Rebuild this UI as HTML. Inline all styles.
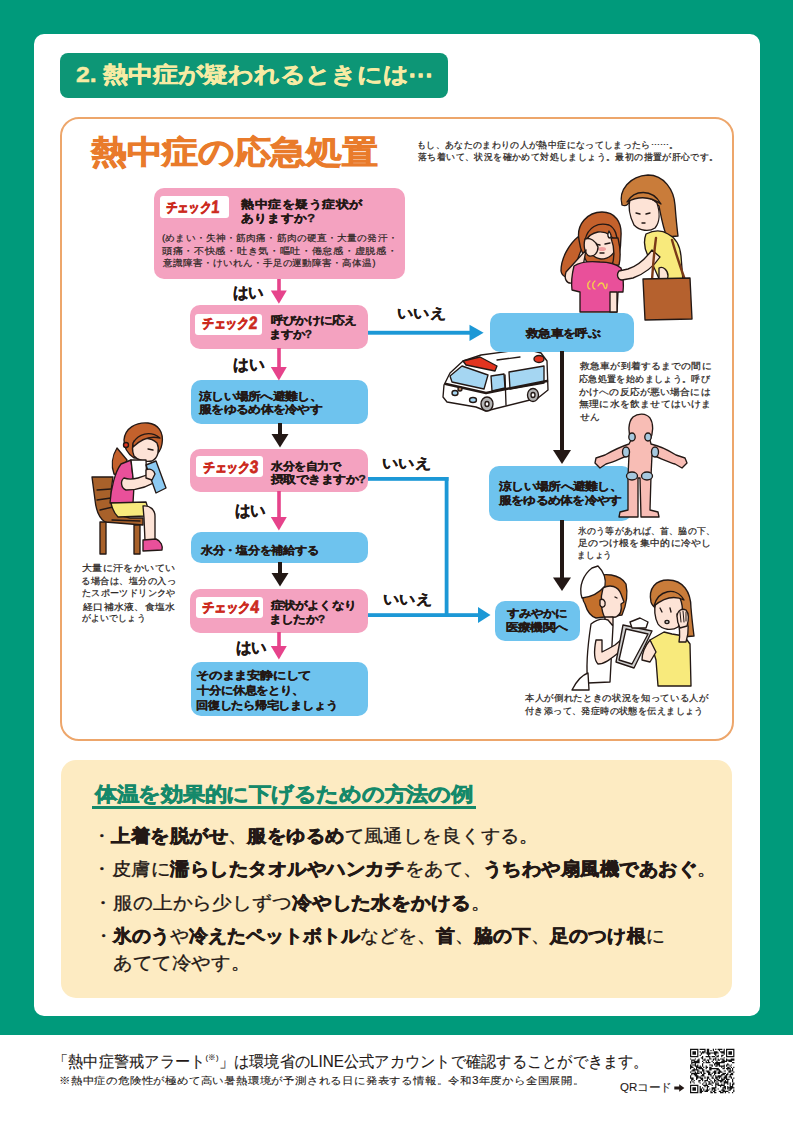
<!DOCTYPE html><html lang="ja"><head><meta charset="utf-8"><style>
*{margin:0;padding:0;box-sizing:border-box}
html,body{width:793px;height:1122px;overflow:hidden;background:#fff}
body{position:relative;font-family:"Liberation Sans",sans-serif;color:#231815}
.a{position:absolute}
.L{position:absolute;white-space:nowrap;line-height:1;transform-origin:0 0}
.ttl{color:#f7eba4;font-weight:bold;-webkit-text-stroke:0.5px #f7eba4}
.h1{color:#e97b2b;font-weight:bold;-webkit-text-stroke:1.0px #e97b2b}
.n{color:#2a2522;-webkit-text-stroke:0.25px #2a2522}
.f{color:#231815;-webkit-text-stroke:0.1px #231815}
.m{color:#2a2522;-webkit-text-stroke:0.2px #2a2522}
.b{color:#231815;font-weight:bold;-webkit-text-stroke:0.3px #231815}
.lb{color:#cc2a1e;font-weight:bold;-webkit-text-stroke:0.65px #cc2a1e}
.lb .d{font-size:1.3em;vertical-align:-0.04em}
.yh{color:#15896a;font-weight:bold;-webkit-text-stroke:0.75px #15896a}
.yl{color:#231815;-webkit-text-stroke:0.35px #231815}
.yl b{font-weight:bold;-webkit-text-stroke:0.7px #231815}
.L sup{font-size:0.5em;vertical-align:0.9em}
.pk{background:#f4a2c0}
.bl{background:#6ec3ee}
.wh{background:#fff}
body.solo *{visibility:hidden!important}
body.solo .show, body.solo .show *{visibility:visible!important}
</style></head><body>
<div class="a" style="left:0;top:0;width:793px;height:1035px;background:#009a7b"></div>
<div class="a" style="left:34px;top:34px;width:726px;height:982px;background:#fff;border-radius:10px"></div>
<div class="a" style="left:60px;top:53px;width:388px;height:45px;background:#0d9676;border-radius:8px"></div>
<div class="a" style="left:60px;top:117px;width:673.5px;height:624px;border:2px solid #eda66b;border-radius:19px"></div>
<!-- illustrations behind boxes -->
<svg class="a" style="left:0;top:0" width="793" height="1122" viewBox="0 0 793 1122">
<g stroke="#231815" stroke-width="1.35" stroke-linejoin="round" stroke-linecap="round">
<!-- top-right girl -->
<path d="M579 236 C569 244 561 258 561 271 C562 277 568 279 572 276 C576 266 578 256 583 246 Z" fill="#c4612c"/>
<path d="M579 240 C576 224 588 212 602 212 C615 212 622 222 621 236 C621 248 619 258 616 267 L590 267 C584 258 580 250 579 240 Z" fill="#c4612c"/>
<path d="M588 238 C590 229 598 225 606 226 C613 228 616 236 616 246 C615 254 609 259 601 259 C593 258 588 251 588 244 Z" fill="#fde3d6"/>
<path d="M585 240 C588 227 598 222 609 225 C615 228 618 236 617 244 C613 236 607 231 598 232 C592 233 588 236 585 242 Z" fill="#c4612c"/>
<path d="M611 238 C614 246 615 256 612 266 L619 265 C621 256 620 246 618 238 Z" fill="#c4612c"/>
<ellipse cx="602" cy="249" rx="4" ry="2" fill="#f2a0a0" stroke="none"/>
<path d="M595 244 L600 245 M605 244 L610 243 M600 253 L604 253" fill="none"/>
<path d="M609 231 C611 234 612 237 610 238 C608 238 607 235 609 231 Z" fill="#fff"/>
<path d="M585 239 C590 237 596 241 598 247 C598 253 594 257 589 256 C585 254 583 246 585 239 Z" fill="#fde3d6"/>
<path d="M586 250 L566 272 C564 278 566 284 572 283 L582 272 Z" fill="#fde3d6"/>
<path d="M574 266 C580 262 590 261 600 262 C610 262 616 264 621 268 C623 276 624 284 623 292 L618 292 L617 312 L580 312 L580 292 L572 290 C571 282 572 274 574 266 Z" fill="#e9509a"/>
<path d="M610 292 L617 292 L617 312 L610 312 Z" fill="#fde3d6"/>
<path d="M590 281 C587 283 587 288 590 289 M595 281 C592 283 592 288 595 289 M598 286 C600 282 603 282 604 286 C605 290 607 289 607 284" fill="none" stroke="#f6d04a" stroke-width="1.3"/>
<!-- woman -->
<path d="M622 205 C618 190 630 176 648 175 C664 175 674 190 675 205 C676 218 677 228 678 236 L667 237 C663 228 661 216 659 206 C651 200 640 197 630 201 C628 205 626 207 622 205 Z" fill="#c97c3a"/>
<path d="M630 199 C638 194 650 196 657 203 C660 212 660 222 655 228 C649 232 640 231 634 225 C630 217 628 207 630 199 Z" fill="#fde3d6"/>
<path d="M627 202 C634 190 652 188 661 204 C651 197 640 195 627 202 Z" fill="#c97c3a"/>
<path d="M636 213 L640 214 M646 214 L650 213 M642 223 L645 223" fill="none"/>
<path d="M646 234 C654 230 662 230 668 234 C676 238 680 246 681 256 L683 281 L660 281 C656 272 652 262 648 256 C645 250 643 242 646 234 Z" fill="#f8ea7c"/>
<path d="M652 250 C646 258 638 266 628 269 L619 271 C616 275 618 280 622 280 L633 278 C644 274 654 266 660 257 Z" fill="#fde3d6"/>
<path d="M659 268 C663 266 668 270 668 276 L667 282 L659 282 Z" fill="#fde3d6"/>
<path d="M656 238 C654 252 653 266 652 280 M672 240 C676 254 680 266 685 280" fill="none" stroke="#7a3a18" stroke-width="2.4"/>
<path d="M643 279 L690 278 L692 319 L645 320 Z" fill="#b5612e"/>
<!-- ambulance -->
<path d="M443 397 L444 385 L450 373 L463 361 L481 355 L526 349 L541 353 L547 361 L548 390 L538 398 L486 411 L476 407 L447 402 Z" fill="#fff"/>
<path d="M450 376 L462 366 L488 375 L484 389 L452 382 Z" fill="#a5d6f2"/>
<path d="M491 376 L504 374 L505 388 L492 391 Z" fill="#a5d6f2"/>
<path d="M509 372 L544 366 L544 383 L510 389 Z" fill="#a5d6f2"/>
<path d="M463 361 L480 357 L497 366 L495 371 L466 365 Z" fill="#e2341f"/>
<ellipse cx="539" cy="359" rx="5" ry="3.5" fill="#e2341f"/>
<path d="M446 384 L486 393 L547 381" fill="none" stroke-width="2.4"/>
<path d="M505 375 L506 405 M497 360 L520 357" fill="none"/>
<ellipse cx="487" cy="404" rx="6" ry="7" fill="#b4b4b4"/>
<ellipse cx="487" cy="404" rx="2" ry="2.5" fill="#fff"/>
<ellipse cx="533" cy="395" rx="5.5" ry="6.5" fill="#b4b4b4"/>
<ellipse cx="533" cy="395" rx="2" ry="2.5" fill="#fff"/>
<ellipse cx="455" cy="393" rx="3" ry="2.5" fill="#a5d6f2"/>
<ellipse cx="473" cy="400" rx="3.5" ry="2.5" fill="#a5d6f2"/>
<circle cx="460" cy="389" r="2" fill="#b08060"/>
<!-- sitting girl -->
<path d="M92 477 L113 477 C111 488 110 500 113 508 C116 514 122 517 130 518 L143 518 L143 525 L105 522 C99 518 96 510 95 500 Z" fill="#a8612a"/>
<path d="M100 522 L106 522 L106 554 L100 554Z M134 525 L140 525 L140 554 L134 554Z" fill="#a8612a"/>
<path d="M97 490 L111 489 M97 500 L111 498 M100 510 L113 507 M112 520 L140 521" fill="none"/>
<path d="M117 448 C112 456 111 466 114 474 C119 476 125 468 127 460 Z" fill="#c4612c"/>
<path d="M124 440 C125 428 136 422 148 423 C158 424 164 432 162 444 C161 450 158 454 154 456 L134 458 C128 454 124 448 124 440Z" fill="#c4612c"/>
<path d="M134 441 C140 437 151 437 157 443 C160 450 158 458 152 461 C146 462 138 461 134 456 C132 451 132 446 134 441Z" fill="#fde3d6"/>
<path d="M133 443 C138 434 150 430 160 438 C152 436 142 438 133 447 Z" fill="#c4612c"/>
<path d="M148 449 L153 450" fill="none"/>
<circle cx="126" cy="445" r="2.5" fill="#e2341f"/>
<path d="M110 503 C111 488 115 472 121 464 L131 460 L134 486 L133 503 Z" fill="#e9509a"/>
<path d="M131 460 L146 460 L147 485 L134 486 Z" fill="#fff"/>
<path d="M111 503 L146 502 C148 507 148 512 146 516 L118 517 C114 513 112 508 111 503 Z" fill="#f8ea7c"/>
<path d="M143 506 C150 505 155 510 155 516 L155 541 L145 541 L144 518 Z" fill="#fde3d6"/>
<path d="M143 540 L156 539 C161 541 163 546 162 550 L143 551 Z" fill="#e9509a"/>
<path d="M124 478 C132 481 144 477 152 472 L160 478 C152 485 140 490 126 490 C121 488 120 481 124 478 Z" fill="#fde3d6"/>
<path d="M146 465 L156 461 L166 488 L156 493 Z" fill="#8ccaf2"/>
<path d="M146 470 C150 468 154 470 155 474 L152 480 L146 478 Z" fill="#fde3d6"/>
<!-- nurse -->
<path d="M585 604 C580 596 582 584 592 578 C604 572 620 574 626 584 C628 594 626 606 622 615 L596 618 C590 616 587 611 585 604Z" fill="#c4702c"/>
<path d="M603 588 C610 584 618 586 621 594 L624 602 L621 604 C622 610 620 615 616 617 L605 618 C601 611 600 598 603 588Z" fill="#fde3d6"/>
<path d="M600 600 C603 598 606 601 605 605 C604 608 601 608 600 605 Z" fill="#fde3d6"/>
<path d="M615 597 L617 598" fill="none"/>
<path d="M582 598 C578 586 584 574 592 568 L598 566 C604 572 606 580 605 586 C600 592 592 597 582 598Z" fill="#fff"/>
<path d="M605 617 L613 617 L613 625 L605 625 Z" fill="#fde3d6"/>
<path d="M591 624 C596 620 602 618 608 620 L613 626 L610 682 L588 683 C586 670 587 650 591 624Z" fill="#fff"/>
<path d="M572 690 C576 682 582 675 588 673 L589 690 Z" fill="#fff"/>
<path d="M596 640 C594 650 594 660 598 664 C606 664 614 656 622 650 L627 645 L622 639 L615 645 C610 648 606 650 602 652 L602 640 Z" fill="#fde3d6"/>
<path d="M623 625 L652 631 L634 668 L616 662 Z" fill="#cfcfcf"/>
<path d="M626 629 L648 634 L632 664 L619 660 Z" fill="#fff"/>
<path d="M630 622 L640 618 L648 622 L646 628 L632 628 Z" fill="#fff"/>
<!-- woman patient -->
<path d="M651 602 C648 588 656 580 668 580 C683 580 691 592 691 608 C692 620 693 628 694 636 L682 637 L678 618 L658 610 C655 608 652 606 651 602Z" fill="#c97c3a"/>
<path d="M656 602 C660 593 672 591 680 598 C684 608 683 620 678 627 C672 631 662 630 658 624 C654 616 654 609 656 602 Z" fill="#fde3d6"/>
<path d="M654 606 C658 590 676 586 684 600 C676 596 666 596 654 606 Z" fill="#c97c3a"/>
<path d="M660 608 L662 612 M670 608 L671 612" fill="none"/>
<ellipse cx="667" cy="622" rx="2" ry="1.5" fill="#fff"/>
<path d="M650 640 L664 632 L672 634 L684 636 L690 644 L691 686 L658 686 L656 660 Z" fill="#f8ea7c"/>
<path d="M650 640 C645 646 642 652 642 660 L650 662 L656 652 Z" fill="#fde3d6"/>
<path d="M686 642 C690 630 688 620 684 612 L677 614 C679 624 681 632 679 642 Z" fill="#fde3d6"/>
<path d="M677 616 C678 610 682 608 686 610 C689 613 689 620 687 626 L680 628 C678 624 677 620 677 616 Z" fill="#fde3d6"/>
<path d="M680 612 L681 622 M683 611 L684 622 M686 612 L686 621" fill="none" stroke-width="1"/>
</g>
</svg>

<div class="a pk" style="left:154.0px;top:188.0px;width:250.8px;height:90.5px;border-radius:10px"></div>
<div class="a pk" style="left:190.3px;top:305.1px;width:178.2px;height:43.6px;border-radius:10px"></div>
<div class="a bl" style="left:190.8px;top:380.3px;width:177.7px;height:44.1px;border-radius:10px"></div>
<div class="a pk" style="left:190.3px;top:448.8px;width:178.2px;height:43.4px;border-radius:10px"></div>
<div class="a bl" style="left:190.8px;top:532.1px;width:177.7px;height:31.3px;border-radius:10px"></div>
<div class="a pk" style="left:190.3px;top:589.3px;width:178.2px;height:43.6px;border-radius:10px"></div>
<div class="a bl" style="left:190.8px;top:661.8px;width:177.7px;height:54.6px;border-radius:10px"></div>
<div class="a bl" style="left:489.9px;top:312.9px;width:143.7px;height:39.1px;border-radius:10px"></div>
<div class="a bl" style="left:489.3px;top:466.3px;width:142.7px;height:54.3px;border-radius:10px"></div>
<div class="a bl" style="left:495.0px;top:601.0px;width:84.9px;height:39.5px;border-radius:10px"></div>
<div class="a wh" style="left:160.0px;top:195.7px;width:69.2px;height:22.1px;border-radius:3px"></div>
<div class="a wh" style="left:195.4px;top:313.5px;width:66.4px;height:21.3px;border-radius:3px"></div>
<div class="a wh" style="left:196.1px;top:456.2px;width:66.6px;height:20.9px;border-radius:3px"></div>
<div class="a wh" style="left:196.1px;top:596.7px;width:67.3px;height:21.6px;border-radius:3px"></div>
<svg class="a" style="left:0;top:0" width="793" height="1122" viewBox="0 0 793 1122"><g stroke="#231815" stroke-width="1.35" stroke-linejoin="round" stroke-linecap="round">
<!-- body figure -->
<path d="M631 440 C628 432 628 422 633 417 C638 413 646 413 650 418 C654 424 653 434 650 440 L651 444 C660 446 668 450 676 455 L685 458 L687 463 L682 468 L675 464 C668 462 660 458 652 455 L651 476 L650 510 L658 512 L659 517 L641 517 L640 478 L638 478 L638 517 L619 517 L620 512 L628 510 L628 476 L629 455 C621 458 614 462 606 464 L600 468 L595 463 L596 458 L605 455 C612 451 620 447 629 444 Z" fill="#f8bdb5"/>
<g fill="#a6c8de">
<ellipse cx="632" cy="437" rx="3.2" ry="4"/><ellipse cx="648" cy="437" rx="3.2" ry="4"/>
<ellipse cx="626" cy="452" rx="3.5" ry="5"/><ellipse cx="655" cy="452" rx="3.5" ry="5"/>
<ellipse cx="632" cy="476" rx="5.5" ry="4"/><ellipse cx="647" cy="476" rx="5.5" ry="4"/>
</g>
</g></svg>
<!-- arrows -->
<svg class="a" style="left:0;top:0" width="793" height="1122" viewBox="0 0 793 1122">
<g fill="#e6438b">
<rect x="277.2" y="279" width="3.6" height="12"/><path d="M270.8 290.5H286.8L278.9 303.8Z"/>
<rect x="277.2" y="348" width="3.6" height="20"/><path d="M270.8 367H286.8L278.9 380.5Z"/>
<rect x="277.2" y="491" width="3.6" height="27"/><path d="M270.8 517H286.8L278.9 530.5Z"/>
<rect x="277.2" y="632" width="3.6" height="15"/><path d="M270.8 646H286.8L278.9 659.5Z"/>
</g>
<g fill="#231815">
<rect x="278" y="423" width="4" height="12"/><path d="M271.5 434H288.5L280 447.5Z"/>
<rect x="278" y="562" width="4" height="12"/><path d="M271.5 573H288.5L280 586.5Z"/>
<rect x="560" y="351" width="4" height="100"/><path d="M553 450H571L562 464Z"/>
<rect x="560" y="520" width="4" height="58"/><path d="M553 577.5H571L562 591Z"/>
</g>
<g fill="#1c98d6">
<rect x="368" y="330.8" width="102" height="3.9"/><path d="M469.5 324.7V341L483.6 332.8Z"/>
<rect x="368" y="477" width="80.5" height="3.8"/>
<rect x="444.7" y="477" width="3.8" height="140"/>
<rect x="368" y="613.2" width="111" height="3.8"/><path d="M478 607V623L490.5 615.1Z"/>
</g>
</svg>


<div class="a" style="left:61px;top:760px;width:671px;height:237.5px;background:#fdebc2;border-radius:15px"></div>
<div class="a" style="left:92px;top:806.3px;width:384px;height:2.6px;background:#15896a"></div>
<svg class="a" style="left:0;top:0" width="793" height="1122"><path fill="#111" d="M690.00 1048.80h1.20v1.20h-1.20zM691.20 1048.80h1.20v1.20h-1.20zM692.40 1048.80h1.20v1.20h-1.20zM693.60 1048.80h1.20v1.20h-1.20zM694.80 1048.80h1.20v1.20h-1.20zM696.00 1048.80h1.20v1.20h-1.20zM697.20 1048.80h1.20v1.20h-1.20zM699.60 1048.80h1.20v1.20h-1.20zM700.80 1048.80h1.20v1.20h-1.20zM702.00 1048.80h1.20v1.20h-1.20zM703.20 1048.80h1.20v1.20h-1.20zM704.40 1048.80h1.20v1.20h-1.20zM706.80 1048.80h1.20v1.20h-1.20zM708.00 1048.80h1.20v1.20h-1.20zM712.80 1048.80h1.20v1.20h-1.20zM715.20 1048.80h1.20v1.20h-1.20zM717.60 1048.80h1.20v1.20h-1.20zM718.80 1048.80h1.20v1.20h-1.20zM720.00 1048.80h1.20v1.20h-1.20zM721.20 1048.80h1.20v1.20h-1.20zM723.60 1048.80h1.20v1.20h-1.20zM726.00 1048.80h1.20v1.20h-1.20zM727.20 1048.80h1.20v1.20h-1.20zM728.40 1048.80h1.20v1.20h-1.20zM729.60 1048.80h1.20v1.20h-1.20zM730.80 1048.80h1.20v1.20h-1.20zM732.00 1048.80h1.20v1.20h-1.20zM733.20 1048.80h1.20v1.20h-1.20zM690.00 1050.00h1.20v1.20h-1.20zM697.20 1050.00h1.20v1.20h-1.20zM704.40 1050.00h1.20v1.20h-1.20zM706.80 1050.00h1.20v1.20h-1.20zM708.00 1050.00h1.20v1.20h-1.20zM710.40 1050.00h1.20v1.20h-1.20zM712.80 1050.00h1.20v1.20h-1.20zM718.80 1050.00h1.20v1.20h-1.20zM723.60 1050.00h1.20v1.20h-1.20zM726.00 1050.00h1.20v1.20h-1.20zM733.20 1050.00h1.20v1.20h-1.20zM690.00 1051.20h1.20v1.20h-1.20zM692.40 1051.20h1.20v1.20h-1.20zM693.60 1051.20h1.20v1.20h-1.20zM694.80 1051.20h1.20v1.20h-1.20zM697.20 1051.20h1.20v1.20h-1.20zM699.60 1051.20h1.20v1.20h-1.20zM702.00 1051.20h1.20v1.20h-1.20zM703.20 1051.20h1.20v1.20h-1.20zM704.40 1051.20h1.20v1.20h-1.20zM706.80 1051.20h1.20v1.20h-1.20zM708.00 1051.20h1.20v1.20h-1.20zM714.00 1051.20h1.20v1.20h-1.20zM715.20 1051.20h1.20v1.20h-1.20zM716.40 1051.20h1.20v1.20h-1.20zM720.00 1051.20h1.20v1.20h-1.20zM721.20 1051.20h1.20v1.20h-1.20zM722.40 1051.20h1.20v1.20h-1.20zM723.60 1051.20h1.20v1.20h-1.20zM726.00 1051.20h1.20v1.20h-1.20zM728.40 1051.20h1.20v1.20h-1.20zM729.60 1051.20h1.20v1.20h-1.20zM730.80 1051.20h1.20v1.20h-1.20zM733.20 1051.20h1.20v1.20h-1.20zM690.00 1052.40h1.20v1.20h-1.20zM692.40 1052.40h1.20v1.20h-1.20zM693.60 1052.40h1.20v1.20h-1.20zM694.80 1052.40h1.20v1.20h-1.20zM697.20 1052.40h1.20v1.20h-1.20zM700.80 1052.40h1.20v1.20h-1.20zM702.00 1052.40h1.20v1.20h-1.20zM703.20 1052.40h1.20v1.20h-1.20zM705.60 1052.40h1.20v1.20h-1.20zM706.80 1052.40h1.20v1.20h-1.20zM708.00 1052.40h1.20v1.20h-1.20zM709.20 1052.40h1.20v1.20h-1.20zM710.40 1052.40h1.20v1.20h-1.20zM711.60 1052.40h1.20v1.20h-1.20zM712.80 1052.40h1.20v1.20h-1.20zM714.00 1052.40h1.20v1.20h-1.20zM715.20 1052.40h1.20v1.20h-1.20zM716.40 1052.40h1.20v1.20h-1.20zM717.60 1052.40h1.20v1.20h-1.20zM721.20 1052.40h1.20v1.20h-1.20zM722.40 1052.40h1.20v1.20h-1.20zM723.60 1052.40h1.20v1.20h-1.20zM726.00 1052.40h1.20v1.20h-1.20zM728.40 1052.40h1.20v1.20h-1.20zM729.60 1052.40h1.20v1.20h-1.20zM730.80 1052.40h1.20v1.20h-1.20zM733.20 1052.40h1.20v1.20h-1.20zM690.00 1053.60h1.20v1.20h-1.20zM692.40 1053.60h1.20v1.20h-1.20zM693.60 1053.60h1.20v1.20h-1.20zM694.80 1053.60h1.20v1.20h-1.20zM697.20 1053.60h1.20v1.20h-1.20zM700.80 1053.60h1.20v1.20h-1.20zM706.80 1053.60h1.20v1.20h-1.20zM708.00 1053.60h1.20v1.20h-1.20zM709.20 1053.60h1.20v1.20h-1.20zM714.00 1053.60h1.20v1.20h-1.20zM715.20 1053.60h1.20v1.20h-1.20zM723.60 1053.60h1.20v1.20h-1.20zM726.00 1053.60h1.20v1.20h-1.20zM728.40 1053.60h1.20v1.20h-1.20zM729.60 1053.60h1.20v1.20h-1.20zM730.80 1053.60h1.20v1.20h-1.20zM733.20 1053.60h1.20v1.20h-1.20zM690.00 1054.80h1.20v1.20h-1.20zM697.20 1054.80h1.20v1.20h-1.20zM699.60 1054.80h1.20v1.20h-1.20zM708.00 1054.80h1.20v1.20h-1.20zM715.20 1054.80h1.20v1.20h-1.20zM717.60 1054.80h1.20v1.20h-1.20zM721.20 1054.80h1.20v1.20h-1.20zM722.40 1054.80h1.20v1.20h-1.20zM726.00 1054.80h1.20v1.20h-1.20zM733.20 1054.80h1.20v1.20h-1.20zM690.00 1056.00h1.20v1.20h-1.20zM691.20 1056.00h1.20v1.20h-1.20zM692.40 1056.00h1.20v1.20h-1.20zM693.60 1056.00h1.20v1.20h-1.20zM694.80 1056.00h1.20v1.20h-1.20zM696.00 1056.00h1.20v1.20h-1.20zM697.20 1056.00h1.20v1.20h-1.20zM702.00 1056.00h1.20v1.20h-1.20zM705.60 1056.00h1.20v1.20h-1.20zM706.80 1056.00h1.20v1.20h-1.20zM708.00 1056.00h1.20v1.20h-1.20zM709.20 1056.00h1.20v1.20h-1.20zM711.60 1056.00h1.20v1.20h-1.20zM712.80 1056.00h1.20v1.20h-1.20zM714.00 1056.00h1.20v1.20h-1.20zM716.40 1056.00h1.20v1.20h-1.20zM717.60 1056.00h1.20v1.20h-1.20zM721.20 1056.00h1.20v1.20h-1.20zM726.00 1056.00h1.20v1.20h-1.20zM727.20 1056.00h1.20v1.20h-1.20zM728.40 1056.00h1.20v1.20h-1.20zM729.60 1056.00h1.20v1.20h-1.20zM730.80 1056.00h1.20v1.20h-1.20zM732.00 1056.00h1.20v1.20h-1.20zM733.20 1056.00h1.20v1.20h-1.20zM700.80 1057.20h1.20v1.20h-1.20zM702.00 1057.20h1.20v1.20h-1.20zM709.20 1057.20h1.20v1.20h-1.20zM715.20 1057.20h1.20v1.20h-1.20zM723.60 1057.20h1.20v1.20h-1.20zM690.00 1058.40h1.20v1.20h-1.20zM694.80 1058.40h1.20v1.20h-1.20zM698.40 1058.40h1.20v1.20h-1.20zM702.00 1058.40h1.20v1.20h-1.20zM704.40 1058.40h1.20v1.20h-1.20zM709.20 1058.40h1.20v1.20h-1.20zM710.40 1058.40h1.20v1.20h-1.20zM712.80 1058.40h1.20v1.20h-1.20zM714.00 1058.40h1.20v1.20h-1.20zM715.20 1058.40h1.20v1.20h-1.20zM717.60 1058.40h1.20v1.20h-1.20zM720.00 1058.40h1.20v1.20h-1.20zM721.20 1058.40h1.20v1.20h-1.20zM722.40 1058.40h1.20v1.20h-1.20zM726.00 1058.40h1.20v1.20h-1.20zM730.80 1058.40h1.20v1.20h-1.20zM732.00 1058.40h1.20v1.20h-1.20zM733.20 1058.40h1.20v1.20h-1.20zM691.20 1059.60h1.20v1.20h-1.20zM692.40 1059.60h1.20v1.20h-1.20zM693.60 1059.60h1.20v1.20h-1.20zM697.20 1059.60h1.20v1.20h-1.20zM698.40 1059.60h1.20v1.20h-1.20zM703.20 1059.60h1.20v1.20h-1.20zM704.40 1059.60h1.20v1.20h-1.20zM706.80 1059.60h1.20v1.20h-1.20zM708.00 1059.60h1.20v1.20h-1.20zM712.80 1059.60h1.20v1.20h-1.20zM715.20 1059.60h1.20v1.20h-1.20zM717.60 1059.60h1.20v1.20h-1.20zM718.80 1059.60h1.20v1.20h-1.20zM722.40 1059.60h1.20v1.20h-1.20zM723.60 1059.60h1.20v1.20h-1.20zM726.00 1059.60h1.20v1.20h-1.20zM727.20 1059.60h1.20v1.20h-1.20zM728.40 1059.60h1.20v1.20h-1.20zM729.60 1059.60h1.20v1.20h-1.20zM730.80 1059.60h1.20v1.20h-1.20zM732.00 1059.60h1.20v1.20h-1.20zM733.20 1059.60h1.20v1.20h-1.20zM691.20 1060.80h1.20v1.20h-1.20zM693.60 1060.80h1.20v1.20h-1.20zM694.80 1060.80h1.20v1.20h-1.20zM696.00 1060.80h1.20v1.20h-1.20zM697.20 1060.80h1.20v1.20h-1.20zM698.40 1060.80h1.20v1.20h-1.20zM702.00 1060.80h1.20v1.20h-1.20zM705.60 1060.80h1.20v1.20h-1.20zM708.00 1060.80h1.20v1.20h-1.20zM711.60 1060.80h1.20v1.20h-1.20zM716.40 1060.80h1.20v1.20h-1.20zM721.20 1060.80h1.20v1.20h-1.20zM722.40 1060.80h1.20v1.20h-1.20zM723.60 1060.80h1.20v1.20h-1.20zM724.80 1060.80h1.20v1.20h-1.20zM726.00 1060.80h1.20v1.20h-1.20zM728.40 1060.80h1.20v1.20h-1.20zM729.60 1060.80h1.20v1.20h-1.20zM730.80 1060.80h1.20v1.20h-1.20zM691.20 1062.00h1.20v1.20h-1.20zM692.40 1062.00h1.20v1.20h-1.20zM693.60 1062.00h1.20v1.20h-1.20zM694.80 1062.00h1.20v1.20h-1.20zM696.00 1062.00h1.20v1.20h-1.20zM697.20 1062.00h1.20v1.20h-1.20zM698.40 1062.00h1.20v1.20h-1.20zM703.20 1062.00h1.20v1.20h-1.20zM705.60 1062.00h1.20v1.20h-1.20zM706.80 1062.00h1.20v1.20h-1.20zM708.00 1062.00h1.20v1.20h-1.20zM709.20 1062.00h1.20v1.20h-1.20zM712.80 1062.00h1.20v1.20h-1.20zM715.20 1062.00h1.20v1.20h-1.20zM716.40 1062.00h1.20v1.20h-1.20zM717.60 1062.00h1.20v1.20h-1.20zM718.80 1062.00h1.20v1.20h-1.20zM720.00 1062.00h1.20v1.20h-1.20zM721.20 1062.00h1.20v1.20h-1.20zM722.40 1062.00h1.20v1.20h-1.20zM723.60 1062.00h1.20v1.20h-1.20zM732.00 1062.00h1.20v1.20h-1.20zM733.20 1062.00h1.20v1.20h-1.20zM691.20 1063.20h1.20v1.20h-1.20zM694.80 1063.20h1.20v1.20h-1.20zM702.00 1063.20h1.20v1.20h-1.20zM714.00 1063.20h1.20v1.20h-1.20zM715.20 1063.20h1.20v1.20h-1.20zM716.40 1063.20h1.20v1.20h-1.20zM717.60 1063.20h1.20v1.20h-1.20zM718.80 1063.20h1.20v1.20h-1.20zM727.20 1063.20h1.20v1.20h-1.20zM690.00 1064.40h1.20v1.20h-1.20zM692.40 1064.40h1.20v1.20h-1.20zM693.60 1064.40h1.20v1.20h-1.20zM694.80 1064.40h1.20v1.20h-1.20zM697.20 1064.40h1.20v1.20h-1.20zM702.00 1064.40h1.20v1.20h-1.20zM709.20 1064.40h1.20v1.20h-1.20zM710.40 1064.40h1.20v1.20h-1.20zM711.60 1064.40h1.20v1.20h-1.20zM714.00 1064.40h1.20v1.20h-1.20zM716.40 1064.40h1.20v1.20h-1.20zM717.60 1064.40h1.20v1.20h-1.20zM718.80 1064.40h1.20v1.20h-1.20zM723.60 1064.40h1.20v1.20h-1.20zM726.00 1064.40h1.20v1.20h-1.20zM727.20 1064.40h1.20v1.20h-1.20zM728.40 1064.40h1.20v1.20h-1.20zM730.80 1064.40h1.20v1.20h-1.20zM690.00 1065.60h1.20v1.20h-1.20zM691.20 1065.60h1.20v1.20h-1.20zM694.80 1065.60h1.20v1.20h-1.20zM696.00 1065.60h1.20v1.20h-1.20zM697.20 1065.60h1.20v1.20h-1.20zM699.60 1065.60h1.20v1.20h-1.20zM702.00 1065.60h1.20v1.20h-1.20zM705.60 1065.60h1.20v1.20h-1.20zM711.60 1065.60h1.20v1.20h-1.20zM715.20 1065.60h1.20v1.20h-1.20zM716.40 1065.60h1.20v1.20h-1.20zM718.80 1065.60h1.20v1.20h-1.20zM720.00 1065.60h1.20v1.20h-1.20zM721.20 1065.60h1.20v1.20h-1.20zM722.40 1065.60h1.20v1.20h-1.20zM723.60 1065.60h1.20v1.20h-1.20zM726.00 1065.60h1.20v1.20h-1.20zM729.60 1065.60h1.20v1.20h-1.20zM690.00 1066.80h1.20v1.20h-1.20zM691.20 1066.80h1.20v1.20h-1.20zM692.40 1066.80h1.20v1.20h-1.20zM696.00 1066.80h1.20v1.20h-1.20zM697.20 1066.80h1.20v1.20h-1.20zM698.40 1066.80h1.20v1.20h-1.20zM699.60 1066.80h1.20v1.20h-1.20zM700.80 1066.80h1.20v1.20h-1.20zM703.20 1066.80h1.20v1.20h-1.20zM705.60 1066.80h1.20v1.20h-1.20zM706.80 1066.80h1.20v1.20h-1.20zM709.20 1066.80h1.20v1.20h-1.20zM710.40 1066.80h1.20v1.20h-1.20zM721.20 1066.80h1.20v1.20h-1.20zM723.60 1066.80h1.20v1.20h-1.20zM727.20 1066.80h1.20v1.20h-1.20zM728.40 1066.80h1.20v1.20h-1.20zM730.80 1066.80h1.20v1.20h-1.20zM733.20 1066.80h1.20v1.20h-1.20zM690.00 1068.00h1.20v1.20h-1.20zM693.60 1068.00h1.20v1.20h-1.20zM696.00 1068.00h1.20v1.20h-1.20zM698.40 1068.00h1.20v1.20h-1.20zM699.60 1068.00h1.20v1.20h-1.20zM700.80 1068.00h1.20v1.20h-1.20zM702.00 1068.00h1.20v1.20h-1.20zM705.60 1068.00h1.20v1.20h-1.20zM709.20 1068.00h1.20v1.20h-1.20zM710.40 1068.00h1.20v1.20h-1.20zM711.60 1068.00h1.20v1.20h-1.20zM712.80 1068.00h1.20v1.20h-1.20zM714.00 1068.00h1.20v1.20h-1.20zM715.20 1068.00h1.20v1.20h-1.20zM716.40 1068.00h1.20v1.20h-1.20zM717.60 1068.00h1.20v1.20h-1.20zM722.40 1068.00h1.20v1.20h-1.20zM723.60 1068.00h1.20v1.20h-1.20zM726.00 1068.00h1.20v1.20h-1.20zM727.20 1068.00h1.20v1.20h-1.20zM728.40 1068.00h1.20v1.20h-1.20zM729.60 1068.00h1.20v1.20h-1.20zM732.00 1068.00h1.20v1.20h-1.20zM692.40 1069.20h1.20v1.20h-1.20zM693.60 1069.20h1.20v1.20h-1.20zM694.80 1069.20h1.20v1.20h-1.20zM696.00 1069.20h1.20v1.20h-1.20zM697.20 1069.20h1.20v1.20h-1.20zM702.00 1069.20h1.20v1.20h-1.20zM703.20 1069.20h1.20v1.20h-1.20zM709.20 1069.20h1.20v1.20h-1.20zM710.40 1069.20h1.20v1.20h-1.20zM716.40 1069.20h1.20v1.20h-1.20zM717.60 1069.20h1.20v1.20h-1.20zM718.80 1069.20h1.20v1.20h-1.20zM727.20 1069.20h1.20v1.20h-1.20zM729.60 1069.20h1.20v1.20h-1.20zM732.00 1069.20h1.20v1.20h-1.20zM691.20 1070.40h1.20v1.20h-1.20zM692.40 1070.40h1.20v1.20h-1.20zM693.60 1070.40h1.20v1.20h-1.20zM697.20 1070.40h1.20v1.20h-1.20zM698.40 1070.40h1.20v1.20h-1.20zM702.00 1070.40h1.20v1.20h-1.20zM703.20 1070.40h1.20v1.20h-1.20zM705.60 1070.40h1.20v1.20h-1.20zM706.80 1070.40h1.20v1.20h-1.20zM708.00 1070.40h1.20v1.20h-1.20zM714.00 1070.40h1.20v1.20h-1.20zM715.20 1070.40h1.20v1.20h-1.20zM718.80 1070.40h1.20v1.20h-1.20zM720.00 1070.40h1.20v1.20h-1.20zM723.60 1070.40h1.20v1.20h-1.20zM724.80 1070.40h1.20v1.20h-1.20zM728.40 1070.40h1.20v1.20h-1.20zM729.60 1070.40h1.20v1.20h-1.20zM730.80 1070.40h1.20v1.20h-1.20zM732.00 1070.40h1.20v1.20h-1.20zM690.00 1071.60h1.20v1.20h-1.20zM694.80 1071.60h1.20v1.20h-1.20zM697.20 1071.60h1.20v1.20h-1.20zM699.60 1071.60h1.20v1.20h-1.20zM700.80 1071.60h1.20v1.20h-1.20zM703.20 1071.60h1.20v1.20h-1.20zM706.80 1071.60h1.20v1.20h-1.20zM708.00 1071.60h1.20v1.20h-1.20zM709.20 1071.60h1.20v1.20h-1.20zM712.80 1071.60h1.20v1.20h-1.20zM714.00 1071.60h1.20v1.20h-1.20zM715.20 1071.60h1.20v1.20h-1.20zM717.60 1071.60h1.20v1.20h-1.20zM718.80 1071.60h1.20v1.20h-1.20zM720.00 1071.60h1.20v1.20h-1.20zM721.20 1071.60h1.20v1.20h-1.20zM728.40 1071.60h1.20v1.20h-1.20zM729.60 1071.60h1.20v1.20h-1.20zM733.20 1071.60h1.20v1.20h-1.20zM691.20 1072.80h1.20v1.20h-1.20zM692.40 1072.80h1.20v1.20h-1.20zM693.60 1072.80h1.20v1.20h-1.20zM694.80 1072.80h1.20v1.20h-1.20zM696.00 1072.80h1.20v1.20h-1.20zM697.20 1072.80h1.20v1.20h-1.20zM698.40 1072.80h1.20v1.20h-1.20zM700.80 1072.80h1.20v1.20h-1.20zM703.20 1072.80h1.20v1.20h-1.20zM704.40 1072.80h1.20v1.20h-1.20zM708.00 1072.80h1.20v1.20h-1.20zM709.20 1072.80h1.20v1.20h-1.20zM711.60 1072.80h1.20v1.20h-1.20zM714.00 1072.80h1.20v1.20h-1.20zM715.20 1072.80h1.20v1.20h-1.20zM717.60 1072.80h1.20v1.20h-1.20zM718.80 1072.80h1.20v1.20h-1.20zM722.40 1072.80h1.20v1.20h-1.20zM723.60 1072.80h1.20v1.20h-1.20zM724.80 1072.80h1.20v1.20h-1.20zM727.20 1072.80h1.20v1.20h-1.20zM730.80 1072.80h1.20v1.20h-1.20zM732.00 1072.80h1.20v1.20h-1.20zM691.20 1074.00h1.20v1.20h-1.20zM693.60 1074.00h1.20v1.20h-1.20zM694.80 1074.00h1.20v1.20h-1.20zM696.00 1074.00h1.20v1.20h-1.20zM702.00 1074.00h1.20v1.20h-1.20zM703.20 1074.00h1.20v1.20h-1.20zM708.00 1074.00h1.20v1.20h-1.20zM709.20 1074.00h1.20v1.20h-1.20zM710.40 1074.00h1.20v1.20h-1.20zM714.00 1074.00h1.20v1.20h-1.20zM721.20 1074.00h1.20v1.20h-1.20zM722.40 1074.00h1.20v1.20h-1.20zM723.60 1074.00h1.20v1.20h-1.20zM726.00 1074.00h1.20v1.20h-1.20zM727.20 1074.00h1.20v1.20h-1.20zM729.60 1074.00h1.20v1.20h-1.20zM730.80 1074.00h1.20v1.20h-1.20zM732.00 1074.00h1.20v1.20h-1.20zM690.00 1075.20h1.20v1.20h-1.20zM694.80 1075.20h1.20v1.20h-1.20zM696.00 1075.20h1.20v1.20h-1.20zM697.20 1075.20h1.20v1.20h-1.20zM700.80 1075.20h1.20v1.20h-1.20zM702.00 1075.20h1.20v1.20h-1.20zM703.20 1075.20h1.20v1.20h-1.20zM710.40 1075.20h1.20v1.20h-1.20zM712.80 1075.20h1.20v1.20h-1.20zM715.20 1075.20h1.20v1.20h-1.20zM717.60 1075.20h1.20v1.20h-1.20zM718.80 1075.20h1.20v1.20h-1.20zM720.00 1075.20h1.20v1.20h-1.20zM721.20 1075.20h1.20v1.20h-1.20zM724.80 1075.20h1.20v1.20h-1.20zM726.00 1075.20h1.20v1.20h-1.20zM729.60 1075.20h1.20v1.20h-1.20zM690.00 1076.40h1.20v1.20h-1.20zM696.00 1076.40h1.20v1.20h-1.20zM697.20 1076.40h1.20v1.20h-1.20zM698.40 1076.40h1.20v1.20h-1.20zM699.60 1076.40h1.20v1.20h-1.20zM704.40 1076.40h1.20v1.20h-1.20zM706.80 1076.40h1.20v1.20h-1.20zM708.00 1076.40h1.20v1.20h-1.20zM711.60 1076.40h1.20v1.20h-1.20zM715.20 1076.40h1.20v1.20h-1.20zM716.40 1076.40h1.20v1.20h-1.20zM717.60 1076.40h1.20v1.20h-1.20zM718.80 1076.40h1.20v1.20h-1.20zM720.00 1076.40h1.20v1.20h-1.20zM723.60 1076.40h1.20v1.20h-1.20zM724.80 1076.40h1.20v1.20h-1.20zM726.00 1076.40h1.20v1.20h-1.20zM728.40 1076.40h1.20v1.20h-1.20zM729.60 1076.40h1.20v1.20h-1.20zM730.80 1076.40h1.20v1.20h-1.20zM690.00 1077.60h1.20v1.20h-1.20zM691.20 1077.60h1.20v1.20h-1.20zM692.40 1077.60h1.20v1.20h-1.20zM696.00 1077.60h1.20v1.20h-1.20zM697.20 1077.60h1.20v1.20h-1.20zM699.60 1077.60h1.20v1.20h-1.20zM700.80 1077.60h1.20v1.20h-1.20zM702.00 1077.60h1.20v1.20h-1.20zM704.40 1077.60h1.20v1.20h-1.20zM706.80 1077.60h1.20v1.20h-1.20zM708.00 1077.60h1.20v1.20h-1.20zM711.60 1077.60h1.20v1.20h-1.20zM712.80 1077.60h1.20v1.20h-1.20zM715.20 1077.60h1.20v1.20h-1.20zM716.40 1077.60h1.20v1.20h-1.20zM718.80 1077.60h1.20v1.20h-1.20zM721.20 1077.60h1.20v1.20h-1.20zM723.60 1077.60h1.20v1.20h-1.20zM724.80 1077.60h1.20v1.20h-1.20zM726.00 1077.60h1.20v1.20h-1.20zM730.80 1077.60h1.20v1.20h-1.20zM733.20 1077.60h1.20v1.20h-1.20zM691.20 1078.80h1.20v1.20h-1.20zM692.40 1078.80h1.20v1.20h-1.20zM696.00 1078.80h1.20v1.20h-1.20zM700.80 1078.80h1.20v1.20h-1.20zM702.00 1078.80h1.20v1.20h-1.20zM706.80 1078.80h1.20v1.20h-1.20zM709.20 1078.80h1.20v1.20h-1.20zM714.00 1078.80h1.20v1.20h-1.20zM716.40 1078.80h1.20v1.20h-1.20zM717.60 1078.80h1.20v1.20h-1.20zM721.20 1078.80h1.20v1.20h-1.20zM722.40 1078.80h1.20v1.20h-1.20zM723.60 1078.80h1.20v1.20h-1.20zM726.00 1078.80h1.20v1.20h-1.20zM727.20 1078.80h1.20v1.20h-1.20zM728.40 1078.80h1.20v1.20h-1.20zM732.00 1078.80h1.20v1.20h-1.20zM691.20 1080.00h1.20v1.20h-1.20zM693.60 1080.00h1.20v1.20h-1.20zM698.40 1080.00h1.20v1.20h-1.20zM699.60 1080.00h1.20v1.20h-1.20zM702.00 1080.00h1.20v1.20h-1.20zM704.40 1080.00h1.20v1.20h-1.20zM705.60 1080.00h1.20v1.20h-1.20zM706.80 1080.00h1.20v1.20h-1.20zM710.40 1080.00h1.20v1.20h-1.20zM714.00 1080.00h1.20v1.20h-1.20zM715.20 1080.00h1.20v1.20h-1.20zM717.60 1080.00h1.20v1.20h-1.20zM718.80 1080.00h1.20v1.20h-1.20zM720.00 1080.00h1.20v1.20h-1.20zM721.20 1080.00h1.20v1.20h-1.20zM722.40 1080.00h1.20v1.20h-1.20zM724.80 1080.00h1.20v1.20h-1.20zM727.20 1080.00h1.20v1.20h-1.20zM732.00 1080.00h1.20v1.20h-1.20zM690.00 1081.20h1.20v1.20h-1.20zM692.40 1081.20h1.20v1.20h-1.20zM698.40 1081.20h1.20v1.20h-1.20zM704.40 1081.20h1.20v1.20h-1.20zM708.00 1081.20h1.20v1.20h-1.20zM709.20 1081.20h1.20v1.20h-1.20zM711.60 1081.20h1.20v1.20h-1.20zM714.00 1081.20h1.20v1.20h-1.20zM716.40 1081.20h1.20v1.20h-1.20zM720.00 1081.20h1.20v1.20h-1.20zM721.20 1081.20h1.20v1.20h-1.20zM723.60 1081.20h1.20v1.20h-1.20zM724.80 1081.20h1.20v1.20h-1.20zM726.00 1081.20h1.20v1.20h-1.20zM727.20 1081.20h1.20v1.20h-1.20zM732.00 1081.20h1.20v1.20h-1.20zM690.00 1082.40h1.20v1.20h-1.20zM693.60 1082.40h1.20v1.20h-1.20zM699.60 1082.40h1.20v1.20h-1.20zM703.20 1082.40h1.20v1.20h-1.20zM705.60 1082.40h1.20v1.20h-1.20zM709.20 1082.40h1.20v1.20h-1.20zM711.60 1082.40h1.20v1.20h-1.20zM712.80 1082.40h1.20v1.20h-1.20zM715.20 1082.40h1.20v1.20h-1.20zM717.60 1082.40h1.20v1.20h-1.20zM723.60 1082.40h1.20v1.20h-1.20zM724.80 1082.40h1.20v1.20h-1.20zM726.00 1082.40h1.20v1.20h-1.20zM727.20 1082.40h1.20v1.20h-1.20zM729.60 1082.40h1.20v1.20h-1.20zM733.20 1082.40h1.20v1.20h-1.20zM702.00 1083.60h1.20v1.20h-1.20zM705.60 1083.60h1.20v1.20h-1.20zM708.00 1083.60h1.20v1.20h-1.20zM709.20 1083.60h1.20v1.20h-1.20zM710.40 1083.60h1.20v1.20h-1.20zM715.20 1083.60h1.20v1.20h-1.20zM716.40 1083.60h1.20v1.20h-1.20zM717.60 1083.60h1.20v1.20h-1.20zM721.20 1083.60h1.20v1.20h-1.20zM723.60 1083.60h1.20v1.20h-1.20zM727.20 1083.60h1.20v1.20h-1.20zM729.60 1083.60h1.20v1.20h-1.20zM732.00 1083.60h1.20v1.20h-1.20zM733.20 1083.60h1.20v1.20h-1.20zM690.00 1084.80h1.20v1.20h-1.20zM691.20 1084.80h1.20v1.20h-1.20zM692.40 1084.80h1.20v1.20h-1.20zM693.60 1084.80h1.20v1.20h-1.20zM694.80 1084.80h1.20v1.20h-1.20zM696.00 1084.80h1.20v1.20h-1.20zM697.20 1084.80h1.20v1.20h-1.20zM703.20 1084.80h1.20v1.20h-1.20zM704.40 1084.80h1.20v1.20h-1.20zM705.60 1084.80h1.20v1.20h-1.20zM706.80 1084.80h1.20v1.20h-1.20zM711.60 1084.80h1.20v1.20h-1.20zM715.20 1084.80h1.20v1.20h-1.20zM717.60 1084.80h1.20v1.20h-1.20zM718.80 1084.80h1.20v1.20h-1.20zM720.00 1084.80h1.20v1.20h-1.20zM721.20 1084.80h1.20v1.20h-1.20zM722.40 1084.80h1.20v1.20h-1.20zM723.60 1084.80h1.20v1.20h-1.20zM729.60 1084.80h1.20v1.20h-1.20zM732.00 1084.80h1.20v1.20h-1.20zM690.00 1086.00h1.20v1.20h-1.20zM697.20 1086.00h1.20v1.20h-1.20zM699.60 1086.00h1.20v1.20h-1.20zM704.40 1086.00h1.20v1.20h-1.20zM706.80 1086.00h1.20v1.20h-1.20zM708.00 1086.00h1.20v1.20h-1.20zM715.20 1086.00h1.20v1.20h-1.20zM720.00 1086.00h1.20v1.20h-1.20zM723.60 1086.00h1.20v1.20h-1.20zM724.80 1086.00h1.20v1.20h-1.20zM727.20 1086.00h1.20v1.20h-1.20zM729.60 1086.00h1.20v1.20h-1.20zM730.80 1086.00h1.20v1.20h-1.20zM732.00 1086.00h1.20v1.20h-1.20zM690.00 1087.20h1.20v1.20h-1.20zM692.40 1087.20h1.20v1.20h-1.20zM693.60 1087.20h1.20v1.20h-1.20zM694.80 1087.20h1.20v1.20h-1.20zM697.20 1087.20h1.20v1.20h-1.20zM699.60 1087.20h1.20v1.20h-1.20zM702.00 1087.20h1.20v1.20h-1.20zM706.80 1087.20h1.20v1.20h-1.20zM711.60 1087.20h1.20v1.20h-1.20zM712.80 1087.20h1.20v1.20h-1.20zM714.00 1087.20h1.20v1.20h-1.20zM715.20 1087.20h1.20v1.20h-1.20zM722.40 1087.20h1.20v1.20h-1.20zM723.60 1087.20h1.20v1.20h-1.20zM724.80 1087.20h1.20v1.20h-1.20zM727.20 1087.20h1.20v1.20h-1.20zM728.40 1087.20h1.20v1.20h-1.20zM729.60 1087.20h1.20v1.20h-1.20zM730.80 1087.20h1.20v1.20h-1.20zM732.00 1087.20h1.20v1.20h-1.20zM733.20 1087.20h1.20v1.20h-1.20zM690.00 1088.40h1.20v1.20h-1.20zM692.40 1088.40h1.20v1.20h-1.20zM693.60 1088.40h1.20v1.20h-1.20zM694.80 1088.40h1.20v1.20h-1.20zM697.20 1088.40h1.20v1.20h-1.20zM699.60 1088.40h1.20v1.20h-1.20zM700.80 1088.40h1.20v1.20h-1.20zM703.20 1088.40h1.20v1.20h-1.20zM706.80 1088.40h1.20v1.20h-1.20zM709.20 1088.40h1.20v1.20h-1.20zM711.60 1088.40h1.20v1.20h-1.20zM712.80 1088.40h1.20v1.20h-1.20zM714.00 1088.40h1.20v1.20h-1.20zM717.60 1088.40h1.20v1.20h-1.20zM722.40 1088.40h1.20v1.20h-1.20zM724.80 1088.40h1.20v1.20h-1.20zM727.20 1088.40h1.20v1.20h-1.20zM729.60 1088.40h1.20v1.20h-1.20zM730.80 1088.40h1.20v1.20h-1.20zM690.00 1089.60h1.20v1.20h-1.20zM692.40 1089.60h1.20v1.20h-1.20zM693.60 1089.60h1.20v1.20h-1.20zM694.80 1089.60h1.20v1.20h-1.20zM697.20 1089.60h1.20v1.20h-1.20zM699.60 1089.60h1.20v1.20h-1.20zM700.80 1089.60h1.20v1.20h-1.20zM703.20 1089.60h1.20v1.20h-1.20zM705.60 1089.60h1.20v1.20h-1.20zM706.80 1089.60h1.20v1.20h-1.20zM708.00 1089.60h1.20v1.20h-1.20zM711.60 1089.60h1.20v1.20h-1.20zM714.00 1089.60h1.20v1.20h-1.20zM715.20 1089.60h1.20v1.20h-1.20zM721.20 1089.60h1.20v1.20h-1.20zM722.40 1089.60h1.20v1.20h-1.20zM723.60 1089.60h1.20v1.20h-1.20zM728.40 1089.60h1.20v1.20h-1.20zM729.60 1089.60h1.20v1.20h-1.20zM733.20 1089.60h1.20v1.20h-1.20zM690.00 1090.80h1.20v1.20h-1.20zM697.20 1090.80h1.20v1.20h-1.20zM699.60 1090.80h1.20v1.20h-1.20zM700.80 1090.80h1.20v1.20h-1.20zM702.00 1090.80h1.20v1.20h-1.20zM704.40 1090.80h1.20v1.20h-1.20zM705.60 1090.80h1.20v1.20h-1.20zM706.80 1090.80h1.20v1.20h-1.20zM710.40 1090.80h1.20v1.20h-1.20zM712.80 1090.80h1.20v1.20h-1.20zM714.00 1090.80h1.20v1.20h-1.20zM718.80 1090.80h1.20v1.20h-1.20zM720.00 1090.80h1.20v1.20h-1.20zM722.40 1090.80h1.20v1.20h-1.20zM723.60 1090.80h1.20v1.20h-1.20zM724.80 1090.80h1.20v1.20h-1.20zM726.00 1090.80h1.20v1.20h-1.20zM727.20 1090.80h1.20v1.20h-1.20zM733.20 1090.80h1.20v1.20h-1.20zM690.00 1092.00h1.20v1.20h-1.20zM691.20 1092.00h1.20v1.20h-1.20zM692.40 1092.00h1.20v1.20h-1.20zM693.60 1092.00h1.20v1.20h-1.20zM694.80 1092.00h1.20v1.20h-1.20zM696.00 1092.00h1.20v1.20h-1.20zM697.20 1092.00h1.20v1.20h-1.20zM699.60 1092.00h1.20v1.20h-1.20zM700.80 1092.00h1.20v1.20h-1.20zM710.40 1092.00h1.20v1.20h-1.20zM711.60 1092.00h1.20v1.20h-1.20zM714.00 1092.00h1.20v1.20h-1.20zM715.20 1092.00h1.20v1.20h-1.20zM720.00 1092.00h1.20v1.20h-1.20zM721.20 1092.00h1.20v1.20h-1.20zM722.40 1092.00h1.20v1.20h-1.20zM724.80 1092.00h1.20v1.20h-1.20zM728.40 1092.00h1.20v1.20h-1.20zM732.00 1092.00h1.20v1.20h-1.20z"/></svg>
<svg class="a" style="left:0;top:0" width="793" height="1122"><path fill="#231815" d="M674.3 1086.4H679.2V1084.2L684.4 1088L679.2 1091.8V1089.6H674.3Z"/></svg>
<div class="L ttl" id="title" style="left:76.20px;top:64.10px;font-size:24px;transform:scale(1.0302,0.9037)">2. 熱中症が疑われるときには⋯</div>
<div class="L h1" id="h1" style="left:91.00px;top:137.30px;font-size:36px;transform:scale(0.9916,0.8811)">熱中症の応急処置</div>
<div class="L n" id="in1" style="left:416.72px;top:140.30px;font-size:10px;transform:scale(0.9344,0.9485)">もし、あなたのまわりの人が熱中症になってしまったら⋯⋯。</div>
<div class="L n" id="in2" style="left:417.93px;top:151.50px;font-size:10px;transform:scale(0.9396,0.9485)">落ち着いて、状況を確かめて対処しましょう。最初の措置が肝心です。</div>
<div class="L lb" id="lb1" style="left:166.70px;top:198.20px;font-size:12px;transform:scale(0.9373,1.1438) skewX(-5deg)">チェック<span class=d>1</span></div>
<div class="L lb" id="lb2" style="left:202.60px;top:314.30px;font-size:12px;transform:scale(0.9722,1.1438) skewX(-5deg)">チェック<span class=d>2</span></div>
<div class="L lb" id="lb3" style="left:203.50px;top:458.20px;font-size:12px;transform:scale(0.9730,1.1438) skewX(-5deg)">チェック<span class=d>3</span></div>
<div class="L lb" id="lb4" style="left:203.10px;top:598.40px;font-size:12px;transform:scale(1.0022,1.1438) skewX(-5deg)">チェック<span class=d>4</span></div>
<div class="L b" id="b1h1" style="left:241.22px;top:197.60px;font-size:13px;transform:scale(1.0398,0.8797)">熱中症を疑う症状が</div>
<div class="L b" id="b1h2" style="left:241.12px;top:212.30px;font-size:13px;transform:scale(1.0168,0.8797)">ありますか?</div>
<div class="L m" id="b1s1" style="left:162.07px;top:233.00px;font-size:10px;transform:scale(1.0105,0.9430)">(めまい・失神・筋肉痛・筋肉の硬直・大量の発汗・</div>
<div class="L m" id="b1s2" style="left:162.07px;top:246.20px;font-size:10px;transform:scale(1.0698,0.9430)">頭痛・不快感・吐き気・嘔吐・倦怠感・虚脱感・</div>
<div class="L m" id="b1s3" style="left:163.07px;top:258.30px;font-size:10px;transform:scale(0.9961,0.9430)">意識障害・けいれん・手足の運動障害・高体温)</div>
<div class="L b" id="b2h1" style="left:270.57px;top:315.30px;font-size:12px;transform:scale(1.0196,0.8797)">呼びかけに応え</div>
<div class="L b" id="b2h2" style="left:268.57px;top:328.70px;font-size:12px;transform:scale(0.9901,0.8797)">ますか?</div>
<div class="L b" id="b3l1" style="left:198.77px;top:391.00px;font-size:12px;transform:scale(1.0234,0.8797)">涼しい場所へ避難し、</div>
<div class="L b" id="b3l2" style="left:198.77px;top:404.40px;font-size:12px;transform:scale(1.0257,0.8797)">服をゆるめ体を冷やす</div>
<div class="L b" id="b4h1" style="left:270.77px;top:460.60px;font-size:12px;transform:scale(0.9613,0.8797)">水分を自力で</div>
<div class="L b" id="b4h2" style="left:270.77px;top:473.70px;font-size:12px;transform:scale(1.0383,0.8797)">摂取できますか?</div>
<div class="L b" id="b5" style="left:201.38px;top:544.60px;font-size:12px;transform:scale(0.9779,0.8797)">水分・塩分を補給する</div>
<div class="L b" id="b6h1" style="left:270.77px;top:599.70px;font-size:12px;transform:scale(1.0101,0.8797)">症状がよくなり</div>
<div class="L b" id="b6h2" style="left:268.77px;top:613.70px;font-size:12px;transform:scale(1.0149,0.8797)">ましたか?</div>
<div class="L b" id="b7l1" style="left:196.38px;top:670.30px;font-size:12px;transform:scale(1.0664,0.8797)">そのまま安静にして</div>
<div class="L b" id="b7l2" style="left:197.38px;top:685.30px;font-size:12px;transform:scale(0.9906,0.8797)">十分に休息をとり、</div>
<div class="L b" id="b7l3" style="left:196.38px;top:700.30px;font-size:12px;transform:scale(0.9811,0.8797)">回復したら帰宅しましょう</div>
<div class="L b" id="r1" style="left:526.18px;top:327.80px;font-size:12px;transform:scale(1.0295,0.8797)">救急車を呼ぶ</div>
<div class="L b" id="r2l1" style="left:498.88px;top:480.80px;font-size:12px;transform:scale(1.0250,0.8797)">涼しい場所へ避難し、</div>
<div class="L b" id="r2l2" style="left:498.88px;top:495.10px;font-size:12px;transform:scale(1.0208,0.8797)">服をゆるめ体を冷やす</div>
<div class="L b" id="r3l1" style="left:506.97px;top:607.70px;font-size:12px;transform:scale(0.9992,0.8797)">すみやかに</div>
<div class="L b" id="r3l2" style="left:505.97px;top:622.30px;font-size:12px;transform:scale(1.0187,0.8797)">医療機関へ</div>
<div class="L b" id="hai1" style="left:233.20px;top:283.60px;font-size:15px;transform:scale(1.0256,1.0686)">はい</div>
<div class="L b" id="hai2" style="left:233.20px;top:355.60px;font-size:15px;transform:scale(1.0461,1.0686)">はい</div>
<div class="L b" id="hai3" style="left:234.90px;top:501.60px;font-size:15px;transform:scale(1.0272,1.0686)">はい</div>
<div class="L b" id="hai4" style="left:236.30px;top:638.60px;font-size:15px;transform:scale(1.0301,1.0686)">はい</div>
<div class="L b" id="iie1" style="left:396.90px;top:306.00px;font-size:16px;transform:scale(1.0257,0.8913)">いいえ</div>
<div class="L b" id="iie2" style="left:381.90px;top:455.60px;font-size:16px;transform:scale(1.0265,0.8913)">いいえ</div>
<div class="L b" id="iie3" style="left:383.40px;top:591.60px;font-size:16px;transform:scale(1.0277,0.8913)">いいえ</div>
<div class="L n" id="sa1" style="left:579.88px;top:361.70px;font-size:10px;transform:scale(1.0131,0.9331)">救急車が到着するまでの間に</div>
<div class="L n" id="sa2" style="left:578.88px;top:374.90px;font-size:10px;transform:scale(0.9366,0.9331)">応急処置を始めましょう。呼び</div>
<div class="L n" id="sa3" style="left:578.88px;top:387.70px;font-size:10px;transform:scale(1.0128,0.9331)">かけへの反応が悪い場合には</div>
<div class="L n" id="sa4" style="left:578.88px;top:400.10px;font-size:10px;transform:scale(1.0196,0.9331)">無理に水を飲ませてはいけま</div>
<div class="L n" id="sa5" style="left:579.68px;top:412.70px;font-size:10px;transform:scale(1.0070,0.9331)">せん</div>
<div class="L n" id="sb1" style="left:578.28px;top:526.70px;font-size:10px;transform:scale(0.9131,0.9331)">氷のう等があれば、首、脇の下、</div>
<div class="L n" id="sb2" style="left:578.28px;top:539.40px;font-size:10px;transform:scale(1.0279,0.9331)">足のつけ根を集中的に冷やし</div>
<div class="L n" id="sb3" style="left:577.28px;top:551.30px;font-size:10px;transform:scale(0.8818,0.9331)">ましょう</div>
<div class="L n" id="sc1" style="left:525.48px;top:694.24px;font-size:10px;transform:scale(0.9661,0.9331)">本人が倒れたときの状況を知っている人が</div>
<div class="L n" id="sc2" style="left:525.48px;top:707.34px;font-size:10px;transform:scale(0.9407,0.9331)">付き添って、発症時の状態を伝えましょう</div>
<div class="L n" id="sd1" style="left:81.78px;top:564.34px;font-size:10px;transform:scale(1.0373,0.9331)">大量に汗をかいてい</div>
<div class="L n" id="sd2" style="left:80.78px;top:577.24px;font-size:10px;transform:scale(0.9558,0.9331)">る場合は、塩分の入っ</div>
<div class="L n" id="sd3" style="left:81.78px;top:589.14px;font-size:10px;transform:scale(0.9373,0.9331)">たスポーツドリンクや</div>
<div class="L n" id="sd4" style="left:82.78px;top:602.84px;font-size:10px;transform:scale(1.0271,0.9331)">経口補水液、食塩水</div>
<div class="L n" id="sd5" style="left:81.78px;top:614.44px;font-size:10px;transform:scale(0.9097,0.9331)">がよいでしょう</div>
<div class="L yh" id="yh" style="left:94.80px;top:784.50px;font-size:22px;transform:scale(0.9882,0.8867)">体温を効果的に下げるための方法の例</div>
<div class="L yl" id="yl1" style="left:91.85px;top:826.60px;font-size:20px;transform:scale(0.9714,0.9107)">・<b>上着を脱がせ</b>、<b>服をゆるめ</b>て風通しを良くする。</div>
<div class="L yl" id="yl2" style="left:91.85px;top:859.80px;font-size:20px;transform:scale(0.9766,0.9107)">・皮膚に<b>濡らしたタオルやハンカチ</b>をあて、<b>うちわや扇風機であおぐ</b>。</div>
<div class="L yl" id="yl3" style="left:92.55px;top:893.50px;font-size:20px;transform:scale(0.9938,0.9107)">・服の上から少しずつ<b>冷やした水をかける</b>。</div>
<div class="L yl" id="yl4" style="left:93.85px;top:926.90px;font-size:20px;transform:scale(0.9509,0.9107)">・<b>氷のう</b>や<b>冷えたペットボトル</b>などを、<b>首</b>、<b>脇の下</b>、<b>足のつけ根</b>に</div>
<div class="L yl" id="yl5" style="left:112.65px;top:954.40px;font-size:20px;transform:scale(0.9812,0.9107)">あてて冷やす。</div>
<div class="L f" id="ft1" style="left:53.12px;top:1053.30px;font-size:15px;transform:scale(1.0160,1.0696)">「熱中症警戒アラート<sup>(※)</sup>」は環境省のLINE公式アカウントで確認することができます。</div>
<div class="L f" id="ft2" style="left:59.38px;top:1076.30px;font-size:11px;transform:scale(1.0729,0.9410)">※熱中症の危険性が極めて高い暑熱環境が予測される日に発表する情報。令和3年度から全国展開。</div>
<div class="L f" id="qr" style="left:620.15px;top:1081.50px;font-size:11px;transform:scale(1.0470,0.9839)">QRコード</div>
<script>(function(){var M=[["title",357.16,1.0302,0.9037,0],["h1",286.57,0.9916,0.8811,0],["in1",261.63,0.9344,0.9485,0],["in2",300.67,0.9396,0.9485,0],["lb1",54.41,0.9373,1.1438,1],["lb2",56.44,0.9722,1.1438,1],["lb3",56.48,0.9730,1.1438,1],["lb4",58.18,1.0022,1.1438,1],["b1h1",121.66,1.0398,0.8797,0],["b1h2",74.18,1.0168,0.8797,0],["b1s1",235.79,1.0105,0.9430,0],["b1s2",235.36,1.0698,0.9430,0],["b1s3",212.51,0.9961,0.9430,0],["b2h1",85.65,1.0196,0.8797,0],["b2h2",42.91,0.9901,0.8797,0],["b3l1",122.81,1.0234,0.8797,0],["b3l2",123.08,1.0257,0.8797,0],["b4h1",69.21,0.9613,0.8797,0],["b4h2",94.84,1.0383,0.8797,0],["b5",117.35,0.9779,0.8797,0],["b6h1",84.85,1.0101,0.8797,0],["b6h2",56.17,1.0149,0.8797,0],["b7l1",115.17,1.0664,0.8797,0],["b7l2",106.98,0.9906,0.8797,0],["b7l3",141.28,0.9811,0.8797,0],["r1",74.12,1.0295,0.8797,0],["r2l1",123,1.0250,0.8797,0],["r2l2",122.5,1.0208,0.8797,0],["r3l1",59.95,0.9992,0.8797,0],["r3l2",61.12,1.0187,0.8797,0],["hai1",30.77,1.0256,1.0686,0],["hai2",31.38,1.0461,1.0686,0],["hai3",30.82,1.0272,1.0686,0],["hai4",30.9,1.0301,1.0686,0],["iie1",49.23,1.0257,0.8913,0],["iie2",49.27,1.0265,0.8913,0],["iie3",49.33,1.0277,0.8913,0],["sa1",131.7,1.0131,0.9331,0],["sa2",131.12,0.9366,0.9331,0],["sa3",131.66,1.0128,0.9331,0],["sa4",132.55,1.0196,0.9331,0],["sa5",20.14,1.0070,0.9331,0],["sb1",136.96,0.9131,0.9331,0],["sb2",133.63,1.0279,0.9331,0],["sb3",35.27,0.8818,0.9331,0],["sc1",183.56,0.9661,0.9331,0],["sc2",178.73,0.9407,0.9331,0],["sd1",93.36,1.0373,0.9331,0],["sd2",95.58,0.9558,0.9331,0],["sd3",93.73,0.9373,0.9331,0],["sd4",92.44,1.0271,0.9331,0],["sd5",63.68,0.9097,0.9331,0],["yh",377.49,0.9882,0.8867,0],["yl1",446.84,0.9714,0.9107,0],["yl2",625.02,0.9766,0.9107,0],["yl3",397.52,0.9938,0.9107,0],["yl4",570.54,0.9509,0.9107,0],["yl5",137.37,0.9812,0.9107,0],["ft1",595.74,1.0160,1.0696,0],["ft2",525.86,1.0729,0.9410,0],["qr",51.83,1.0470,0.9839,0]];function fit(){for(var k=0;k<M.length;k++){var m=M[k],e=document.getElementById(m[0]);if(!e)continue;var w=e.getBoundingClientRect().width;if(!(w>0))continue;var r=m[1]/w;if(Math.abs(r-1)<0.01)continue;var sx=m[2]*r;e.style.transform='scale('+sx.toFixed(4)+','+m[3].toFixed(4)+')'+(m[4]?' skewX(-5deg)':'');m[2]=sx;}}fit();})();</script></body></html>
